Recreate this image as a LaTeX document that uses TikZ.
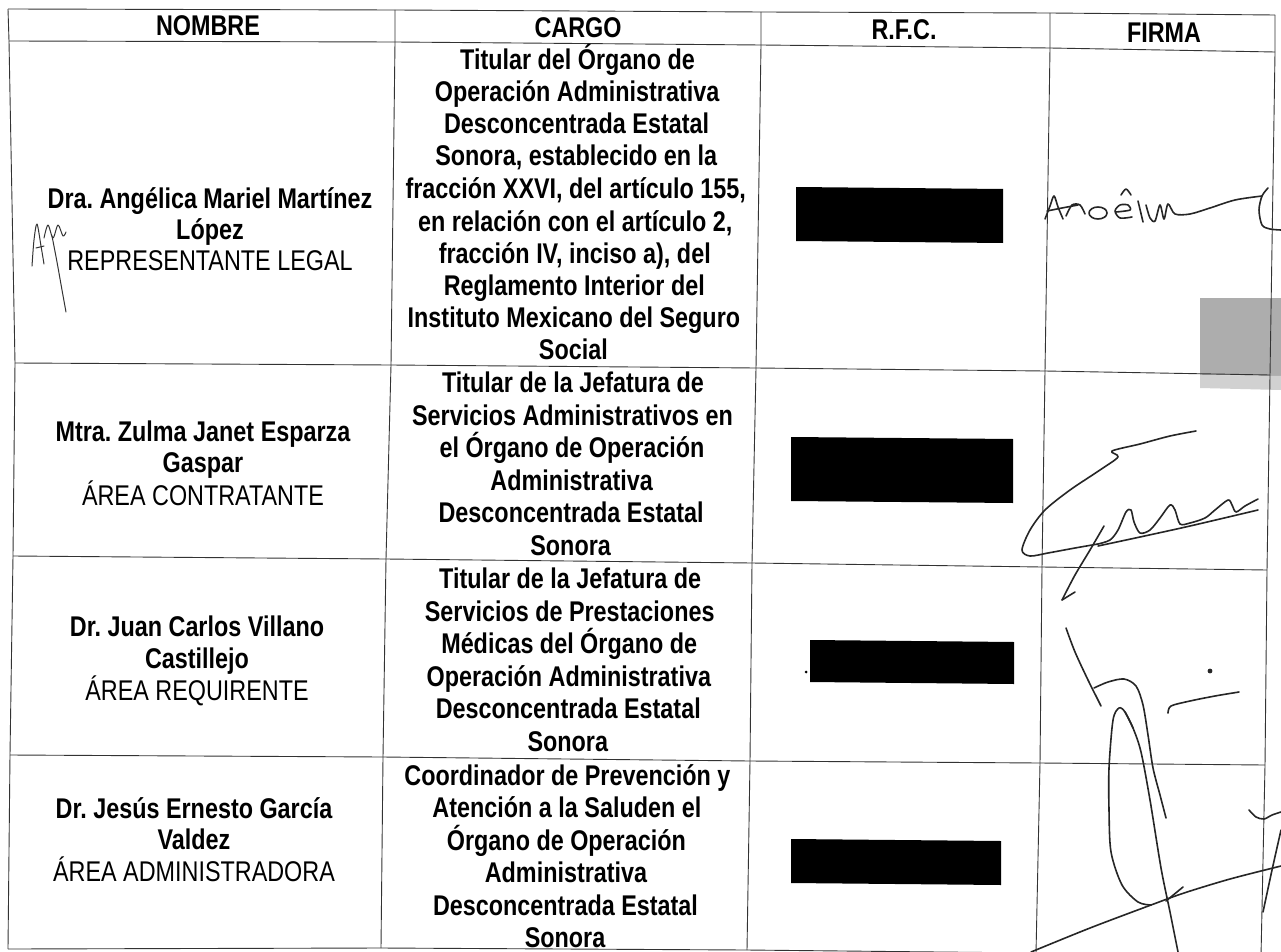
\documentclass[tikz,border=0pt]{standalone}
\usepackage{fontspec}
\setmainfont[FakeStretch=0.82]{Liberation Sans}
\frenchspacing
\begin{document}
\begin{tikzpicture}[x=1pt,y=-1pt,
  txt/.style={anchor=base, inner sep=0pt, font=\fontsize{28.5}{32}\selectfont\bfseries},
  reg/.style={anchor=base, inner sep=0pt, font=\fontsize{28.5}{32}\selectfont\mdseries},
  gridline/.style={line width=0.9pt, draw=black!80, line join=round},
  sig/.style={line width=1.6pt, draw=black!85, line cap=round, line join=round},
  sigthin/.style={line width=1pt, draw=black!80, line cap=round, line join=round},
  redact/.style={fill=black}]
\useasboundingbox (0,0) rectangle (1281,952);
\clip (0,0) rectangle (1281,952);
\fill[white] (0,0) rectangle (1281,952);

% gray halftone patch
\fill[black!32] (1200,298) -- (1281,298) -- (1281,376) -- (1200,375) -- cycle;
\fill[black!18] (1200,375) -- (1281,376) -- (1281,390) -- (1200,388) -- cycle;

% grid intersections p<row line><col line>
\coordinate (p00) at (8,9);    \coordinate (p01) at (395,10);  \coordinate (p02) at (761,12);  \coordinate (p03) at (1050,13);  \coordinate (p04) at (1275,15);
\coordinate (p10) at (9,41);   \coordinate (p11) at (395,42);  \coordinate (p12) at (761,45);  \coordinate (p13) at (1050,48);  \coordinate (p14) at (1275,52);
\coordinate (p20) at (15,363); \coordinate (p21) at (391,365); \coordinate (p22) at (756,368); \coordinate (p23) at (1045,371); \coordinate (p24) at (1270,375);
\coordinate (p30) at (13,556); \coordinate (p31) at (386,559); \coordinate (p32) at (752,563); \coordinate (p33) at (1042,567); \coordinate (p34) at (1267,570);
\coordinate (p40) at (10,755); \coordinate (p41) at (383,757); \coordinate (p42) at (750,761); \coordinate (p43) at (1040,763); \coordinate (p44) at (1265,765);
\coordinate (p50) at (8,949);  \coordinate (p51) at (381,948); \coordinate (p52) at (747,950); \coordinate (p53) at (1036,953); \coordinate (p54) at (1261,956);

\foreach \r in {0,...,5} {
  \draw[gridline] (p\r0) -- (p\r1) -- (p\r2) -- (p\r3) -- (p\r4);
}
\foreach \c in {0,...,4} {
  \draw[gridline] (p0\c) -- (p1\c) -- (p2\c) -- (p3\c) -- (p4\c) -- (p5\c);
}

% headers
\node[txt] (hnombre) at (208,36) {NOMBRE};
\node[txt] (hcargo) at (578,38) {CARGO};
\node[txt] (hrfc) at (904,40) {R.F.C.};
\node[txt] (hfirma) at (1164,43) {FIRMA};

% row 1 cargo
\node[txt] (c1a) at (577.5,70) {Titular del Órgano de};
\node[txt] (c1b) at (577.1,102) {Operación Administrativa};
\node[txt] (c1c) at (576.6,134) {Desconcentrada Estatal};
\node[txt] (c1d) at (576.2,166) {Sonora, establecido en la};
\node[txt] (c1e) at (575.7,198) {fracción XXVI, del artículo 155,};
\node[txt] (c1f) at (575.2,231) {en relación con el artículo 2,};
\node[txt] (c1g) at (574.8,263) {fracción IV, inciso a), del};
\node[txt] (c1h) at (574.3,295) {Reglamento Interior del};
\node[txt] (c1i) at (573.9,327) {Instituto Mexicano del Seguro};
\node[txt] (c1j) at (573.4,359) {Social};

% row 2 cargo
\node[txt] (c2a) at (573.0,392) {Titular de la Jefatura de};
\node[txt] (c2b) at (572.5,425) {Servicios Administrativos en};
\node[txt] (c2c) at (572.0,457) {el Órgano de Operación};
\node[txt] (c2d) at (571.6,490) {Administrativa};
\node[txt] (c2e) at (571.1,522) {Desconcentrada Estatal};
\node[txt] (c2f) at (570.6,555) {Sonora};

% row 3 cargo
\node[txt] (c3a) at (570.2,588) {Titular de la Jefatura de};
\node[txt] (c3b) at (569.7,621) {Servicios de Prestaciones};
\node[txt] (c3c) at (569.2,653) {Médicas del Órgano de};
\node[txt] (c3d) at (568.8,686) {Operación Administrativa};
\node[txt] (c3e) at (568.3,718) {Desconcentrada Estatal};
\node[txt] (c3f) at (567.8,751) {Sonora};

% row 4 cargo
\node[txt] (c4a) at (567.4,785) {Coordinador de Prevención y};
\node[txt] (c4b) at (566.9,817) {Atención a la Saluden el};
\node[txt] (c4c) at (566.4,850) {Órgano de Operación};
\node[txt] (c4d) at (566.0,882) {Administrativa};
\node[txt] (c4e) at (565.5,915) {Desconcentrada Estatal};
\node[txt] (c4f) at (565.0,947) {Sonora};

% names
\node[txt] (n1a) at (210,208) {Dra. Angélica Mariel Martínez};
\node[txt] (n1b) at (210,239) {López};
\node[reg] (n1c) at (210,270) {REPRESENTANTE LEGAL};

\node[txt] (n2a) at (203,441) {Mtra. Zulma Janet Esparza};
\node[txt] (n2b) at (203,472) {Gaspar};
\node[reg] (n2c) at (203,505) {ÁREA CONTRATANTE};

\node[txt] (n3a) at (197,636) {Dr. Juan Carlos Villano};
\node[txt] (n3b) at (197,668) {Castillejo};
\node[reg] (n3c) at (197,700) {ÁREA REQUIRENTE};

\node[txt] (n4a) at (194,818) {Dr. Jesús Ernesto García};
\node[txt] (n4b) at (194,849) {Valdez};
\node[reg] (n4c) at (194,881) {ÁREA ADMINISTRADORA};

% redacted RFC boxes
\fill[redact] (796,187) -- (1003,189) -- (1003,243) -- (796,241) -- cycle;
\fill[redact] (791,437) -- (1013,439) -- (1013,503) -- (791,501) -- cycle;
\fill[redact] (810,640) -- (1014,642) -- (1014,684) -- (810,682) -- cycle;
\fill[black] (806,672) circle (1.5);
\fill[redact] (791,839) -- (1001,841) -- (1001,885) -- (791,883) -- cycle;

% initials near REPRESENTANTE LEGAL
\draw[sigthin] plot[smooth] coordinates {(32,266) (34,240) (37,224) (41,246) (44,264)};
\draw[sigthin] (36,248) -- (44,246);
\draw[sigthin] plot[smooth] coordinates {(44,238) (48,225) (53,238) (58,225) (63,236) (66,232)};
\draw[sigthin] plot[smooth] coordinates {(52,236) (57,262) (62,290) (66,312)};

% signature 1
\draw[sig] plot[smooth] coordinates {(1045,219) (1050,206) (1054,196) (1058,207) (1063,219)};
\draw[sig] plot[smooth] coordinates {(1047,211) (1062,208) (1078,205)};
\draw[sig] plot[smooth] coordinates {(1066,216) (1072,205) (1080,205) (1085,214)};
\draw[sig] (1098,213) ellipse (9 and 6);
\draw[sig] plot[smooth] coordinates {(1116,212) (1130,210) (1128,205) (1120,205) (1115,211) (1120,218) (1132,217)};
\draw[sig] plot[smooth] coordinates {(1121,195) (1126,189) (1131,195)};
\draw[sig] (1138,201) -- (1143,222);
\draw[sig] plot[smooth] coordinates {(1146,205) (1150,218) (1155,221) (1160,205) (1164,219) (1168,204) (1175,214) (1190,214) (1210,208) (1235,200) (1262,196)};
\draw[sig] plot[smooth] coordinates {(1268,188) (1262,196) (1259,210) (1262,225) (1270,229) (1281,230)};

% signature 2
\draw[sig] plot[smooth] coordinates {(1196,431) (1170,436) (1140,444) (1112,451) (1118,457) (1100,470) (1070,490) (1045,510) (1030,530) (1022,550) (1030,556) (1048,553) (1075,548) (1098,544)};
\draw[sig] plot[smooth] coordinates {(1098,544) (1110,540) (1118,530) (1126,512) (1131,510) (1134,522) (1140,533) (1150,530) (1160,518) (1170,505) (1175,510) (1180,524) (1190,523) (1205,518) (1215,510) (1228,500) (1232,505) (1236,512) (1245,506) (1258,499)};
\draw[sig] plot[smooth] coordinates {(1098,546) (1140,537) (1190,526) (1258,510)};
\draw[sig] plot[smooth] coordinates {(1104,526) (1090,550) (1075,575) (1062,600)};
\draw[sig] (1062,600) -- (1075,592);

% signature 3
\draw[sig] plot[smooth] coordinates {(1066,628) (1075,652) (1088,680) (1098,700) (1101,706)};
\draw[sig] plot[smooth] coordinates {(1094,688) (1108,682) (1124,679) (1136,686) (1143,705) (1148,735) (1153,768) (1160,795) (1166,818)};
\draw[sig] plot[smooth] coordinates {(1133,728) (1125,712) (1119,708) (1113,720) (1109,768) (1109,810) (1111,852) (1122,885) (1138,902) (1151,905)};
\draw[sig] plot[smooth] coordinates {(1125,712) (1133,728) (1141,752) (1150,800) (1161,868) (1170,912) (1178,952)};
\fill[black!85] (1210,671) circle (2.4);
\draw[sig] plot[smooth] coordinates {(1168,713) (1171,706) (1190,701) (1215,696) (1239,692)};
\draw[sig] plot[smooth] coordinates {(1031,952) (1090,928) (1151,905) (1184,893) (1230,879) (1281,866)};
\draw[sig] (1166,901) -- (1183,887);
\draw[sig] plot[smooth] coordinates {(1249,810) (1256,817) (1264,819) (1272,815) (1281,812)};
\draw[sig] plot[smooth] coordinates {(1281,830) (1272,870) (1263,912)};
\end{tikzpicture}
\end{document}
